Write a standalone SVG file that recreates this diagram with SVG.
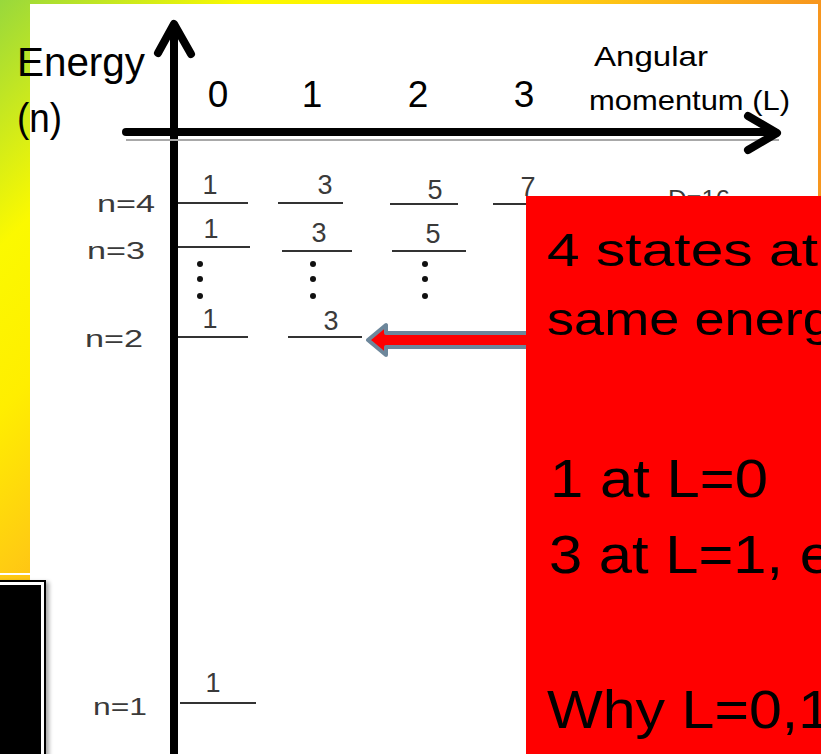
<svg xmlns="http://www.w3.org/2000/svg" width="821" height="754" viewBox="0 0 821 754">
  <defs>
    <linearGradient id="bg" gradientUnits="userSpaceOnUse" x1="0" y1="0" x2="410.5" y2="410.5">
      <stop offset="0" stop-color="#98d83c"/>
      <stop offset="0.3" stop-color="#fbf900"/>
      <stop offset="0.5" stop-color="#ffee00"/>
      <stop offset="0.7" stop-color="#ffcc12"/>
      <stop offset="1" stop-color="#f7961e"/>
    </linearGradient>
    <filter id="shadow" x="-20%" y="-20%" width="160%" height="140%">
      <feGaussianBlur in="SourceAlpha" stdDeviation="2"/>
      <feOffset dx="3" dy="2"/>
      <feComponentTransfer><feFuncA type="linear" slope="0.35"/></feComponentTransfer>
      <feMerge><feMergeNode/><feMergeNode in="SourceGraphic"/></feMerge>
    </filter>
    <style>
      .big { font-family: "Liberation Sans", Arial, sans-serif; fill: #000; }
      .small { font-family: "Liberation Sans", Arial, sans-serif; font-size: 24px; fill: #3a3a3a; }
      .num { font-family: "Liberation Sans", Arial, sans-serif; font-size: 27px; fill: #3a3a3a; text-anchor: middle; }
      .lvl { stroke: #333; stroke-width: 2; fill: none; }
      .dot { fill: #111; }
      .axis { stroke: #000; stroke-width: 8; fill: none; stroke-linecap: round; stroke-linejoin: round; }
      .callout { font-family: "Liberation Sans", Arial, sans-serif; fill: #000; }
    </style>
  </defs>

  <!-- background -->
  <rect x="0" y="0" width="821" height="754" fill="url(#bg)"/>
  <rect x="30" y="4" width="788" height="750" fill="#fff"/>
  <rect x="0" y="573" width="30" height="2" fill="#fff"/>

  <!-- bottom-left black box -->
  <g id="corner-box" filter="url(#shadow)">
    <rect x="-5" y="581" width="50" height="180" fill="#fff" stroke="#000" stroke-width="2"/>
    <rect x="-5" y="585" width="46" height="180" fill="#000"/>
  </g>

  <!-- axes -->
  <g id="energy-axis">
    <line class="axis" x1="174" y1="26" x2="174" y2="760" stroke-linecap="butt"/>
    <polyline class="axis" points="158,53 174,24 191,54"/>
  </g>
  <g id="l-axis">
    <line x1="126" y1="140" x2="779" y2="140" stroke="#a8a8a8" stroke-width="2"/>
    <line class="axis" x1="126" y1="132" x2="774" y2="132" stroke-linecap="butt"/>
    <polyline class="axis" points="748,116 777,133 748,150"/>
  </g>

  <!-- axis labels -->
  <g id="energy-label">
    <text class="big" x="17" y="76" font-size="41" textLength="128" lengthAdjust="spacingAndGlyphs">Energy</text>
    <text class="big" x="17" y="132" font-size="41" textLength="45" lengthAdjust="spacingAndGlyphs">(n)</text>
  </g>
  <g id="l-label">
    <text class="big" x="594" y="66" font-size="28" textLength="114" lengthAdjust="spacingAndGlyphs">Angular</text>
    <text class="big" x="589" y="110" font-size="28" textLength="201" lengthAdjust="spacingAndGlyphs">momentum (L)</text>
  </g>
  <g id="l-values" class="big" font-size="37" text-anchor="middle">
    <text x="218" y="107">0</text>
    <text x="312" y="107">1</text>
    <text x="418" y="107">2</text>
    <text x="524" y="107">3</text>
  </g>

  <!-- n labels -->
  <g id="n-labels" class="small" text-anchor="end">
    <text x="155" y="212" textLength="58" lengthAdjust="spacingAndGlyphs">n=4</text>
    <text x="145" y="259" textLength="58" lengthAdjust="spacingAndGlyphs">n=3</text>
    <text x="143" y="347" textLength="58" lengthAdjust="spacingAndGlyphs">n=2</text>
    <text x="147" y="715" textLength="54" lengthAdjust="spacingAndGlyphs">n=1</text>
  </g>

  <!-- levels L=0 -->
  <g id="levels-L0">
    <line class="lvl" x1="178" y1="203" x2="248" y2="203"/>
    <line class="lvl" x1="178" y1="247" x2="250" y2="247"/>
    <line class="lvl" x1="178" y1="337" x2="248" y2="337"/>
    <line class="lvl" x1="180" y1="703" x2="256" y2="703"/>
    <text class="num" x="210" y="194">1</text>
    <text class="num" x="211" y="238">1</text>
    <text class="num" x="210" y="328">1</text>
    <text class="num" x="213" y="692">1</text>
    <circle class="dot" cx="200" cy="264" r="3"/>
    <circle class="dot" cx="200" cy="279" r="3"/>
    <circle class="dot" cx="200" cy="296" r="3"/>
  </g>

  <!-- levels L=1 -->
  <g id="levels-L1">
    <line class="lvl" x1="278" y1="203" x2="343" y2="203"/>
    <line class="lvl" x1="282" y1="251" x2="352" y2="251"/>
    <line class="lvl" x1="288" y1="337" x2="362" y2="337"/>
    <text class="num" x="325" y="194">3</text>
    <text class="num" x="319" y="242">3</text>
    <text class="num" x="331" y="330">3</text>
    <circle class="dot" cx="313" cy="264" r="3"/>
    <circle class="dot" cx="313" cy="279" r="3"/>
    <circle class="dot" cx="313" cy="296" r="3"/>
  </g>

  <!-- levels L=2 -->
  <g id="levels-L2">
    <line class="lvl" x1="390" y1="204" x2="458" y2="204"/>
    <line class="lvl" x1="392" y1="251" x2="466" y2="251"/>
    <text class="num" x="435" y="199">5</text>
    <text class="num" x="433" y="243">5</text>
    <circle class="dot" cx="425" cy="264" r="3"/>
    <circle class="dot" cx="425" cy="279" r="3"/>
    <circle class="dot" cx="425" cy="296" r="3"/>
  </g>

  <!-- levels L=3 -->
  <g id="levels-L3">
    <line class="lvl" x1="493" y1="204" x2="530" y2="204"/>
    <text class="num" x="528" y="196">7</text>
    <text class="small" x="668" y="207" textLength="62" lengthAdjust="spacingAndGlyphs">D=16</text>
  </g>

  <!-- connectors -->
  <g id="connectors">
    <path d="M368,340 L386,325 L386,333 L530,333 L530,347 L386,347 L386,355 Z" fill="#ff0000" stroke="#6d879b" stroke-width="4" stroke-linejoin="round"/>
  </g>

  <!-- callout box -->
  <g id="callout">
    <rect x="526" y="196" width="300" height="560" fill="#ff0000"/>
    <text class="callout" x="547" y="266" font-size="47" textLength="271" lengthAdjust="spacingAndGlyphs">4 states at</text>
    <text class="callout" x="547" y="335" font-size="47" textLength="286" lengthAdjust="spacingAndGlyphs">same energ</text>
    <text class="callout" x="550" y="497" font-size="54" textLength="218" lengthAdjust="spacingAndGlyphs">1 at L=0</text>
    <text class="callout" x="549" y="573" font-size="54" textLength="284" lengthAdjust="spacingAndGlyphs">3 at L=1, e</text>
    <text class="callout" x="547" y="728" font-size="54" textLength="284" lengthAdjust="spacingAndGlyphs">Why L=0,1</text>
  </g>
</svg>
